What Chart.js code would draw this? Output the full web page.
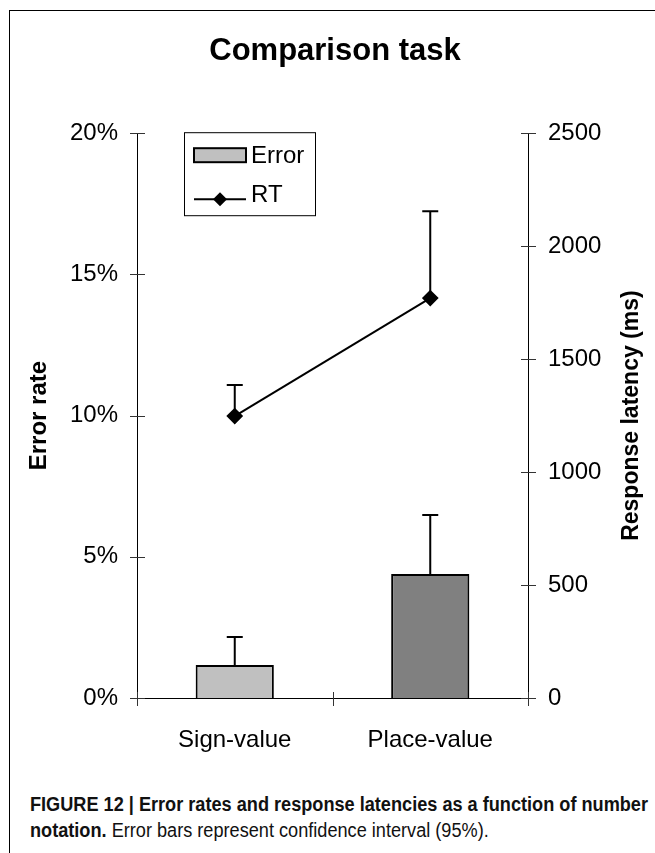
<!DOCTYPE html>
<html>
<head>
<meta charset="utf-8">
<script src="https://cdn.jsdelivr.net/npm/chart.js@4.4.0/dist/chart.umd.min.js"></script>
<style>
  html, body { margin: 0; padding: 0; background: #fff; }
  body { width: 655px; height: 853px; position: relative; overflow: hidden; }
  .frame { position: absolute; left: 9px; top: 10px; right: -2px; bottom: -2px; border-top: 1px solid #000; border-left: 1px solid #000; }
  .chart-wrap { position: absolute; left: 0; top: 0; width: 655px; height: 780px; }
  .caption { position: absolute; left: 30px; top: 791px; font-family: 'Liberation Sans', Arial, sans-serif; font-size: 20px; line-height: 26px; color: #111; white-space: nowrap; transform-origin: 0 0; }
</style>
</head>
<body>
<div class="frame"></div>
<div class="chart-wrap"><canvas id="chart"></canvas></div>
<div class="caption" id="caption">
  <b id="captionHead">FIGURE 12 | Error rates and response latencies as a function of number</b><br>
  <b>notation.</b> Error bars represent confidence interval (95%).
</div>
<script>
'use strict';

const categories = ['Sign-value', 'Place-value'];
const errorRate = [1.17, 4.39];
const errorRateUpper = [2.16, 6.48];
const latency = [1248, 1770];
const latencyUpper = [1385, 2155];
const barColors = ['#c0c0c0', '#808080'];
const errorTicks = [0, 5, 10, 15, 20];
const latencyTicks = [0, 500, 1000, 1500, 2000, 2500];
const uppers = [errorRateUpper, latencyUpper];

const FONT = "'Liberation Sans', Arial, sans-serif";
Chart.defaults.font.family = FONT;
Chart.defaults.color = '#000';

// the caption is set in a condensed face: squeeze the first line to its width
const head = document.getElementById('captionHead');
const squeeze = 618 / head.getBoundingClientRect().width;
document.getElementById('caption').style.transform = `scaleX(${squeeze})`;

// tick marks that cross the axis lines, like the original
const axisTicks = {
  id: 'axisTicks',
  afterDraw(chart) {
    const { ctx, scales: { x, y, y1 } } = chart;
    ctx.save();
    ctx.strokeStyle = '#333';
    ctx.lineWidth = 1;
    ctx.beginPath();
    y.ticks.forEach((t) => {
      const py = Math.round(y.getPixelForValue(t.value)) + 0.5;
      ctx.moveTo(y.right - 7, py);
      ctx.lineTo(y.right + 8, py);
    });
    y1.ticks.forEach((t) => {
      const py = Math.round(y1.getPixelForValue(t.value)) + 0.5;
      ctx.moveTo(y1.left - 7, py);
      ctx.lineTo(y1.left + 8, py);
    });
    [-0.5, 0.5, 1.5].forEach((v) => {
      const px = Math.round(x.getPixelForValue(v)) + 0.5;
      ctx.moveTo(px, x.top - 6);
      ctx.lineTo(px, x.top + 8);
    });
    ctx.stroke();
    ctx.restore();
  }
};

const errorBars = {
  id: 'errorBars',
  afterDatasetsDraw(chart) {
    const { ctx } = chart;
    ctx.save();
    ctx.strokeStyle = '#000';
    ctx.lineWidth = 2;
    chart.data.datasets.forEach((ds, i) => {
      const meta = chart.getDatasetMeta(i);
      const scale = chart.scales[meta.yAxisID];
      meta.data.forEach((el, j) => {
        const from = scale.getPixelForValue(ds.data[j]);
        const to = scale.getPixelForValue(uppers[i][j]);
        ctx.beginPath();
        ctx.moveTo(el.x, from);
        ctx.lineTo(el.x, to);
        ctx.moveTo(el.x - 8, to);
        ctx.lineTo(el.x + 8, to);
        ctx.stroke();
      });
    });
    ctx.restore();
  }
};

const boxLegend = {
  id: 'boxLegend',
  afterDraw(chart) {
    const { ctx, chartArea } = chart;
    const [bars, line] = chart.data.datasets;
    const left = chartArea.left + 47;
    const top = chartArea.top - 1;
    ctx.save();
    ctx.fillStyle = '#fff';
    ctx.strokeStyle = '#000';
    ctx.lineWidth = 1;
    ctx.fillRect(left, top, 131, 83);
    ctx.strokeRect(left + 0.5, top + 0.5, 131, 83);

    ctx.fillStyle = barColors[0];
    ctx.fillRect(left + 10, top + 16, 52, 14);
    ctx.lineWidth = 2;
    ctx.strokeRect(left + 10, top + 16, 52, 14);

    ctx.beginPath();
    ctx.moveTo(left + 10, top + 67);
    ctx.lineTo(left + 62, top + 67);
    ctx.stroke();
    ctx.fillStyle = '#000';
    ctx.beginPath();
    ctx.moveTo(left + 36, top + 60);
    ctx.lineTo(left + 43, top + 67);
    ctx.lineTo(left + 36, top + 74);
    ctx.lineTo(left + 29, top + 67);
    ctx.closePath();
    ctx.fill();

    ctx.font = '24px ' + FONT;
    ctx.textBaseline = 'middle';
    ctx.fillText(bars.label, left + 67, top + 24);
    ctx.fillText(line.label, left + 67, top + 63);
    ctx.restore();
  }
};

const rightTitle = {
  id: 'rightTitle',
  afterDraw(chart) {
    const { ctx, scales: { y1 } } = chart;
    ctx.save();
    ctx.translate(632, (y1.top + y1.bottom) / 2);
    ctx.rotate(-Math.PI / 2);
    ctx.font = 'bold 23px ' + FONT;
    ctx.fillStyle = '#000';
    ctx.textAlign = 'center';
    ctx.textBaseline = 'middle';
    ctx.fillText('Response latency (ms)', 0, 0);
    ctx.restore();
  }
};

new Chart(document.getElementById('chart'), {
  data: {
    labels: categories,
    datasets: [
      {
        type: 'bar',
        label: 'Error',
        data: errorRate,
        yAxisID: 'y',
        backgroundColor: barColors,
        borderColor: '#000',
        borderWidth: 2,
        barPercentage: 0.4,
        categoryPercentage: 1,
        order: 2
      },
      {
        type: 'line',
        label: 'RT',
        data: latency,
        yAxisID: 'y1',
        borderColor: '#000',
        borderWidth: 2,
        pointStyle: 'rectRot',
        pointRadius: 7,
        pointBackgroundColor: '#000',
        pointBorderColor: '#000',
        order: 1
      }
    ]
  },
  options: {
    responsive: true,
    maintainAspectRatio: false,
    animation: false,
    layout: { padding: { left: 15, right: 0, top: 0, bottom: 0 } },
    plugins: {
      legend: { display: false },
      tooltip: { enabled: false },
      title: {
        display: true,
        text: 'Comparison task',
        color: '#000',
        font: { size: 31, weight: 'bold' },
        padding: { top: 33, bottom: 63 }
      }
    },
    scales: {
      x: {
        offset: true,
        grid: { display: false, drawTicks: false },
        border: { display: true, color: '#000', width: 1 },
        ticks: { font: { size: 24 }, padding: 28, maxRotation: 0 },
        afterFit: (s) => { s.height = 82; }
      },
      y: {
        position: 'left',
        min: 0,
        max: 20,
        afterBuildTicks: (s) => { s.ticks = errorTicks.map((v) => ({ value: v })); },
        grid: { display: false, drawTicks: false },
        border: { display: true, color: '#000', width: 1 },
        ticks: { font: { size: 24 }, padding: 19, callback: (v) => v + '%' },
        title: { display: true, text: 'Error rate', font: { size: 24, weight: 'bold' }, padding: { top: 10, bottom: 0 } },
        afterFit: (s) => { s.width = 122; }
      },
      y1: {
        position: 'right',
        min: 0,
        max: 2500,
        afterBuildTicks: (s) => { s.ticks = latencyTicks.map((v) => ({ value: v })); },
        grid: { display: false, drawTicks: false },
        border: { display: true, color: '#000', width: 1 },
        ticks: { font: { size: 24 }, padding: 20, callback: (v) => String(v) },
        afterFit: (s) => { s.width = 127; }
      }
    }
  },
  plugins: [errorBars, axisTicks, boxLegend, rightTitle]
});
</script>
</body>
</html>
